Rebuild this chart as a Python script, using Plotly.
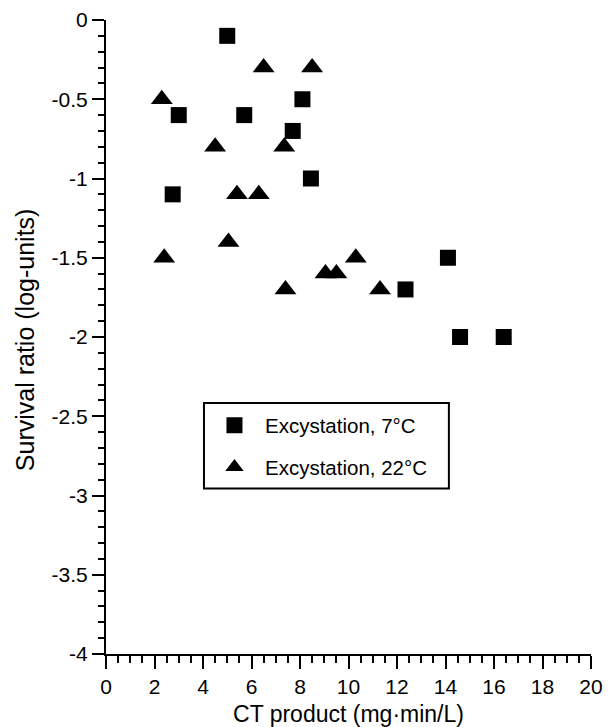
import plotly.graph_objects as go

# Excystation at 7 °C (squares)
ct_7c = [5.0, 8.1, 3.0, 5.7, 7.7, 8.45, 2.75, 14.1, 12.35, 14.6, 16.4]
surv_7c = [-0.1, -0.5, -0.6, -0.6, -0.7, -1.0, -1.1, -1.5, -1.7, -2.0, -2.0]

# Excystation at 22 °C (triangles)
ct_22c = [6.5, 8.5, 2.3, 4.5, 7.35, 5.4, 6.3, 5.05, 2.4, 10.3, 9.05, 9.5, 7.4, 11.3]
surv_22c = [-0.3, -0.3, -0.5, -0.8, -0.8, -1.1, -1.1, -1.4, -1.5, -1.5, -1.6, -1.6, -1.7, -1.7]

x_tickvals = [0, 2, 4, 6, 8, 10, 12, 14, 16, 18, 20]
x_ticktext = ["0", "2", "4", "6", "8", "10", "12", "14", "16", "18", "20"]
y_tickvals = [0, -0.5, -1, -1.5, -2, -2.5, -3, -3.5, -4]
y_ticktext = ["0", "-0.5", "-1", "-1.5", "-2", "-2.5", "-3", "-3.5", "-4"]

X_TITLE = "CT product (mg·min/L)"
Y_TITLE = "Survival ratio (log-units)"

FONT = "Liberation Sans, Arial, Helvetica, sans-serif"

fig = go.Figure()
fig.add_trace(go.Scatter(
    x=ct_7c, y=surv_7c, mode="markers", name="Excystation, 7°C",
    legendgroup="a",
    marker=dict(symbol="square", size=16, color="black"),
))
fig.add_trace(go.Scatter(
    x=ct_22c, y=surv_22c, mode="markers", name="Excystation, 22°C",
    legendgroup="b",
    marker=dict(symbol="triangle-up", size=19, color="black"),
))

# legend frame (drawn as a paper-referenced rectangle)
fig.add_shape(type="rect", xref="paper", yref="paper",
              x0=0.202, x1=0.707, y0=0.261, y1=0.396,
              line=dict(color="black", width=2), fillcolor="white", layer="below")

# y-axis title as rotated annotation for exact placement
fig.add_annotation(text=Y_TITLE, xref="paper", yref="paper",
                   x=-0.167, y=0.495, xanchor="center", yanchor="middle",
                   textangle=-90, showarrow=False,
                   font=dict(size=25, family=FONT, color="black"))

fig.update_layout(
    width=607, height=719,
    margin=dict(l=98, r=24, t=12, b=73),
    paper_bgcolor="white", plot_bgcolor="white",
    font=dict(family=FONT, size=21, color="black"),
    showlegend=True,
    legend=dict(
        x=0.202, y=0.392, xanchor="left", yanchor="top",
        borderwidth=0, bgcolor="rgba(0,0,0,0)",
        font=dict(size=20.5, family=FONT, color="black"),
        tracegroupgap=12, traceorder="grouped", itemwidth=51,
    ),
    xaxis=dict(
        range=[0, 20], showgrid=False, zeroline=False, automargin=False,
        showline=True, linecolor="black", linewidth=2,
        tickmode="array", tickvals=x_tickvals, ticktext=x_ticktext,
        ticks="outside", ticklen=13, tickwidth=2, tickcolor="black",
        tickfont=dict(size=21, family=FONT),
        minor=dict(dtick=0.5, ticks="outside", ticklen=7, tickwidth=2, tickcolor="black", showgrid=False),
        title=dict(text=X_TITLE, font=dict(size=23, family=FONT), standoff=10),
    ),
    yaxis=dict(
        range=[-4, 0], showgrid=False, zeroline=False, automargin=False,
        showline=True, linecolor="black", linewidth=2,
        tickmode="array", tickvals=y_tickvals, ticktext=y_ticktext,
        ticks="outside", ticklen=12, tickwidth=2, tickcolor="black",
        tickfont=dict(size=21, family=FONT),
        minor=dict(dtick=0.1, ticks="outside", ticklen=6, tickwidth=2, tickcolor="black", showgrid=False),
    ),
)

fig.write_html("out.html")
